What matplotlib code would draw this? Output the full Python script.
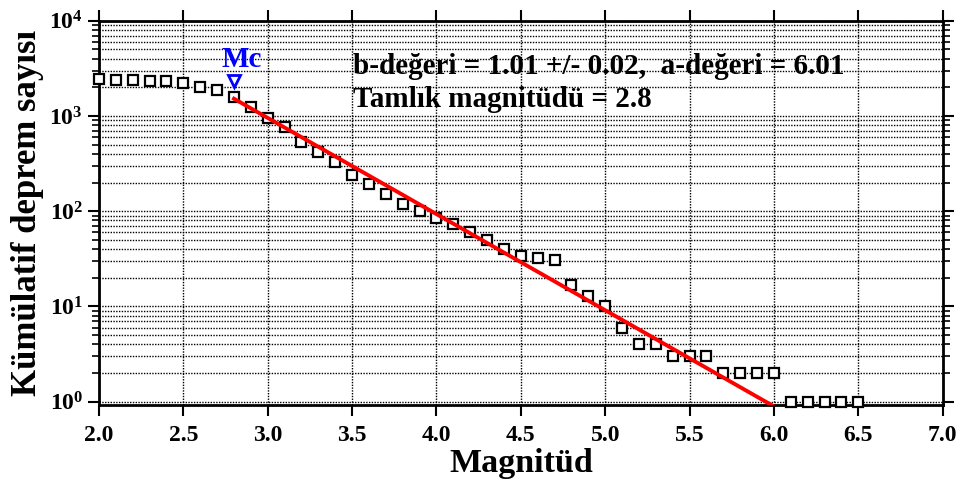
import numpy as np
import matplotlib
matplotlib.use('Agg')
import matplotlib.pyplot as plt
from matplotlib.ticker import LogLocator, FixedLocator, NullFormatter

plt.rcParams['font.family'] = ['Liberation Serif', 'DejaVu Serif']
plt.rcParams['font.weight'] = 'bold'
plt.rcParams['mathtext.fontset'] = 'custom'
plt.rcParams['mathtext.rm'] = 'Liberation Serif:bold'
plt.rcParams['mathtext.bf'] = 'Liberation Serif:bold'
plt.rcParams['mathtext.it'] = 'Liberation Serif:bold'

# cumulative counts per magnitude bin
magnitudes = np.round(np.arange(2.0, 6.51, 0.1), 1)
cum_counts = [2420, 2410, 2380, 2360, 2320, 2230, 2040, 1880, 1600, 1250,
              960, 770, 540, 420, 330, 240, 195, 152, 118, 100,
              85, 73, 60, 50, 40, 34, 32, 31, 17, 13,
              10, 6, 4, 4, 3, 3, 3, 2, 2, 2,
              2, 1, 1, 1, 1, 1]
b_value = 1.01
b_err = 0.02
a_value = 6.01
mc = 2.8
mc_marker_y = 2350
x_ticks = [2.0, 2.5, 3.0, 3.5, 4.0, 4.5, 5.0, 5.5, 6.0, 6.5, 7.0]

fig = plt.figure(figsize=(9.61, 4.84), dpi=100)
ax = fig.add_axes([0.103, 0.163, 0.878, 0.794])

grid_style = dict(color='black', linestyle=(0, (1.0, 1.0)), linewidth=1.0)

ax.plot(magnitudes, cum_counts, 's', ms=7.5, mfc='white', mec='black', mew=1.6,
        zorder=3, clip_on=False)

# G-R fit line from Mc
m_fit = np.array([mc, 6.0])
ax.plot(m_fit, 10 ** (a_value - b_value * m_fit), color='red', lw=2.8, zorder=4)

ax.plot([mc], [mc_marker_y], 'v', ms=8, mfc='white', mec='blue', mew=2, zorder=5)
ax.text(mc + 0.045, 3900, 'Mc', color='blue', fontsize=21, fontweight='bold',
        ha='center', va='center')

ax.text(0.301, 0.88, 'b-değeri = %.2f +/- %.2f,  a-değeri = %.2f' % (b_value, b_err, a_value),
        transform=ax.transAxes, fontsize=21, fontweight='bold', va='center', ha='left')
ax.text(0.301, 0.794, 'Tamlık magnitüdü = %.1f' % mc,
        transform=ax.transAxes, fontsize=21, fontweight='bold', va='center', ha='left')

ax.set_yscale('log')
ax.set_xlim(2.0, 7.0)
ax.set_ylim(0.92, 1e4)
ax.xaxis.set_major_locator(FixedLocator(x_ticks))
ax.set_xticklabels(['%.1f' % t for t in x_ticks])
ax.yaxis.set_major_locator(LogLocator(base=10, numticks=10))
ax.yaxis.set_minor_locator(LogLocator(base=10, subs=np.arange(2, 10), numticks=20))
ax.yaxis.set_minor_formatter(NullFormatter())

ax.grid(True, which='major', axis='x', **grid_style)
ax.grid(True, which='both', axis='y', **grid_style)
ax.set_axisbelow(True)

ax.tick_params(axis='both', which='major', direction='out', length=8, width=1.5,
               labelsize=17, top=True, right=True)
ax.tick_params(axis='x', which='major', pad=6)
ax.tick_params(axis='y', which='minor', direction='out', length=5, width=1.2,
               right=True)
for s in ax.spines.values():
    s.set_linewidth(2)

ax.set_xlabel('Magnitüd', fontsize=24.5, fontweight='bold', labelpad=2)
ax.set_ylabel('Kümülatif deprem sayısı', fontsize=25, fontweight='bold', labelpad=4)

fig.savefig('out.png', dpi=100)
